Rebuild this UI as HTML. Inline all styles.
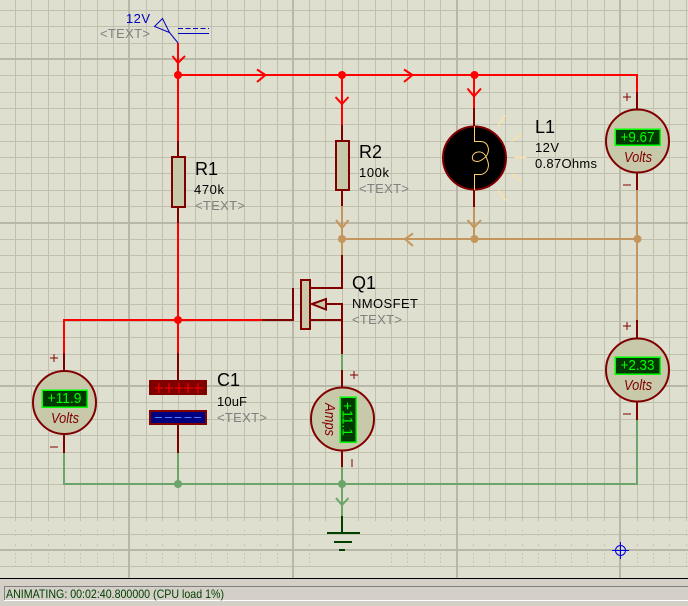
<!DOCTYPE html>
<html><head><meta charset="utf-8"><style>
html,body{margin:0;padding:0;width:688px;height:606px;overflow:hidden;background:#dfdfd0}
svg{display:block}
text{font-family:"Liberation Sans",sans-serif}
.n{font-size:18px;fill:#000}
.v{font-size:13px;fill:#000}
.t{font-size:13px;fill:#808080}
.d{font-size:15px;fill:#00ff00}
.u{font-size:15px;fill:#800000;font-style:italic}
.r{stroke:#f00}.k{stroke:#800000}.a{stroke:#c4965c}.g{stroke:#6aa56a}
.w{fill:none;stroke-width:2}
</style></head><body>
<svg width="688" height="606" viewBox="0 0 688 606" xmlns="http://www.w3.org/2000/svg">
<rect width="688" height="606" fill="#dfdfd0"/>
<g shape-rendering="crispEdges">
<path fill="none" stroke="#c0c0af" stroke-width="1" d="M0 10.5H688M0 26.5H688M0 43.5H688M0 75.5H688M0 92.5H688M0 108.5H688M0 124.5H688M0 141.5H688M0 157.5H688M0 173.5H688M0 190.5H688M0 206.5H688M0 239.5H688M0 255.5H688M0 272.5H688M0 288.5H688M0 304.5H688M0 321.5H688M0 337.5H688M0 354.5H688M0 370.5H688M0 402.5H688M0 419.5H688M0 435.5H688M0 452.5H688M0 468.5H688M0 484.5H688M0 501.5H688M0 517.5H688M0 534.5H688M0 566.5H688"/>
<path fill="none" stroke="#c0c0af" stroke-width="1" d="M15.5 0V521M31.5 0V521M48.5 0V521M64.5 0V521M80.5 0V521M97.5 0V521M113.5 0V521M146.5 0V521M162.5 0V521M178.5 0V521M195.5 0V521M211.5 0V521M227.5 0V521M244.5 0V521M260.5 0V521M277.5 0V521M309.5 0V521M325.5 0V521M342.5 0V521M358.5 0V521M375.5 0V521M391.5 0V521M407.5 0V521M424.5 0V521M440.5 0V521M473.5 0V521M489.5 0V521M505.5 0V521M522.5 0V521M538.5 0V521M555.5 0V521M571.5 0V521M587.5 0V521M604.5 0V521M637.5 0V521M653.5 0V521M669.5 0V521M686.5 0V521"/>
<path fill="none" stroke="#c6c6b6" stroke-width="1" stroke-dasharray="2 2" d="M15.5 530V536M31.5 530V536M48.5 530V536M64.5 530V536M80.5 530V536M97.5 530V536M113.5 530V536M146.5 530V536M162.5 530V536M178.5 530V536M195.5 530V536M211.5 530V536M227.5 530V536M244.5 530V536M260.5 530V536M277.5 530V536M309.5 530V536M391.5 530V536M407.5 530V536M424.5 530V536M440.5 530V536M473.5 530V536M489.5 530V536M505.5 530V536M522.5 530V536M538.5 530V536M555.5 530V536M571.5 530V536M587.5 530V536M604.5 530V536M637.5 530V536M653.5 530V536M669.5 530V536M686.5 530V536M15.5 544V548M31.5 544V548M48.5 544V548M64.5 544V548M80.5 544V548M97.5 544V548M113.5 544V548M146.5 544V548M162.5 544V548M178.5 544V548M195.5 544V548M211.5 544V548M227.5 544V548M244.5 544V548M260.5 544V548M277.5 544V548M309.5 544V548M391.5 544V548M407.5 544V548M424.5 544V548M440.5 544V548M473.5 544V548M489.5 544V548M505.5 544V548M522.5 544V548M538.5 544V548M555.5 544V548M571.5 544V548M587.5 544V548M604.5 544V548M637.5 544V548M653.5 544V548M669.5 544V548M686.5 544V548M15.5 553V569M31.5 553V569M48.5 553V569M64.5 553V569M80.5 553V569M97.5 553V569M113.5 553V569M146.5 553V569M162.5 553V569M178.5 553V569M195.5 553V569M211.5 553V569M227.5 553V569M244.5 553V569M260.5 553V569M277.5 553V569M309.5 553V569M391.5 553V569M407.5 553V569M424.5 553V569M440.5 553V569M473.5 553V569M489.5 553V569M505.5 553V569M522.5 553V569M538.5 553V569M555.5 553V569M571.5 553V569M587.5 553V569M604.5 553V569M637.5 553V569M653.5 553V569M669.5 553V569M686.5 553V569"/>
<path fill="none" stroke="#b8b8a8" stroke-width="2" d="M0 59H688M0 223H688M0 386H688M0 550H688M129 0V578M293 0V578M457 0V578M620 0V578"/>
</g>

<!-- wires -->
<g class="w" shape-rendering="crispEdges">
<path class="r" d="M178 43V141M177 75H638M637 74V92M342 75V125M474 75V108M178 223V353M64 320H262M64 319V353"/>
<path class="a" d="M342 206V255M474 207V239M342 239H637M637 190V320"/>
<path class="g" d="M342 354V370M342 467V516M64 453V485M63 484H638M637 420V485M178 453V484"/>
<path class="k" d="M178 141V157M178 207V223M342 125V141M342 190V206M342 255V289M474 108V126M474 190V207M637 92V109M637 173V190M637 320V338M637 402V420M64 353V371M64 435V453M178 353V380M178 425V453M342 304V354M342 370V387M342 451V467M262 320H294M293 321V288M310 288H343M310 320H342M327 304H343"/>
<path stroke="#004000" d="M342 516V533M327 533H360M334 542H352M339 550H345"/>
</g>

<!-- arrowheads -->
<g class="w">
<path class="r" d="M172.500 56L178 63L185 56M257 69.500L265.500 75L257 82M404 69.500L412.500 75L404 82M335.500 97L342 104L348.500 97M467.500 88.500L474 96.500L481 88.500"/>
<path class="a" d="M336 220L342 228L348.500 220M467.500 220L474 227.500L481 220M413 233.500L405 239L413 246"/>
<path class="g" d="M336 498L342 505L348.500 498"/>
</g>

<!-- junctions -->
<g>
<circle cx="178" cy="75" r="4" fill="#f00"/><circle cx="342" cy="75" r="4" fill="#f00"/><circle cx="474.500" cy="75" r="4" fill="#f00"/><circle cx="178" cy="320" r="4" fill="#f00"/>
<circle cx="342" cy="239" r="4" fill="#c4965c"/><circle cx="474.500" cy="239" r="4" fill="#c4965c"/><circle cx="637.500" cy="239" r="4" fill="#c4965c"/>
<circle cx="178" cy="484" r="4" fill="#6aa56a"/><circle cx="342" cy="484" r="4" fill="#6aa56a"/>
</g>

<!-- power terminal -->
<path d="M162.500 18.500L154.500 26.500L169.500 32.500ZM169.500 32.500L178 43" fill="none" stroke="#0000c0" stroke-width="1"/>
<path d="M178 28.500H209" stroke="#0000c8" stroke-width="1" stroke-dasharray="5 2.500" shape-rendering="crispEdges"/>
<path d="M178 33.500H209" stroke="#0000c8" stroke-width="1" shape-rendering="crispEdges"/>
<text x="126" y="23" font-size="13" fill="#0000c0" textLength="24">12V</text>
<text class="t" x="100" y="38" textLength="50">&lt;TEXT&gt;</text>

<!-- resistors -->
<rect x="172" y="157" width="13" height="50" fill="#c8c8aa" stroke="#800000" stroke-width="2" shape-rendering="crispEdges"/>
<rect x="336" y="141" width="13" height="49" fill="#c8c8aa" stroke="#800000" stroke-width="2" shape-rendering="crispEdges"/>
<text class="n" x="195" y="175">R1</text><text class="v" x="194" y="194" textLength="30">470k</text><text class="t" x="195" y="210" textLength="50">&lt;TEXT&gt;</text>
<text class="n" x="359" y="158">R2</text><text class="v" x="359" y="177" textLength="30">100k</text><text class="t" x="359" y="193" textLength="50">&lt;TEXT&gt;</text>

<!-- lamp -->
<circle cx="474.500" cy="158" r="31.500" fill="#000" stroke="#800000" stroke-width="2"/>
<path d="M474.500 126V141.500H481Q488 142 488.500 150Q488 156 483 159Q477 163.500 473 160Q471 156 475 153Q481 150 485 155Q488 160 488.500 165Q488 173 481 174.500H474.500V190" fill="none" stroke="#ffd070" stroke-width="1"/>
<path d="M498 126L505.500 115.500M511.500 141.500L521.500 134.500M514.500 157.500H526.500M511.500 174L521.500 181M498 190L506 200.500" stroke="#ffe0a0" stroke-width="1.300" fill="none"/>
<text class="n" x="535" y="133">L1</text><text class="v" x="535" y="152" textLength="24">12V</text><text class="v" x="535" y="168" textLength="62">0.87Ohms</text>

<!-- mosfet -->
<rect x="301" y="280" width="9" height="49" fill="#c8c8aa" stroke="#800000" stroke-width="2" shape-rendering="crispEdges"/>
<path d="M312 304L326 299V309.500Z" fill="#c8c8aa" stroke="#800000" stroke-width="2"/>
<text class="n" x="352" y="289">Q1</text><text class="v" x="352" y="308" textLength="66">NMOSFET</text><text class="t" x="352" y="324" textLength="50">&lt;TEXT&gt;</text>

<!-- capacitor -->
<rect x="149" y="380" width="58" height="15" fill="#800000"/>
<path d="M155 388H163M165 388H173M175 388H183M184 388H193M194 388H203M159 383V393M169 383V393M179 383V393M188 383V393M198 383V393" stroke="#f00" stroke-width="1" fill="none" shape-rendering="crispEdges"/>
<rect x="150" y="411" width="56" height="13" fill="#000080" stroke="#800000" stroke-width="2" shape-rendering="crispEdges"/>
<path d="M155 417.500H203" stroke="#4a80ff" stroke-width="1" stroke-dasharray="7 2.800" shape-rendering="crispEdges"/>
<text class="n" x="217" y="386">C1</text><text class="v" x="217" y="406" textLength="30">10uF</text><text class="t" x="217" y="422" textLength="50">&lt;TEXT&gt;</text>

<!-- voltmeter top right -->
<circle cx="637.500" cy="141" r="31.500" fill="#c8c8aa" stroke="#800000" stroke-width="2"/>
<rect x="615" y="129" width="45" height="16" fill="#003800" stroke="#00ff00" stroke-width="1.500" shape-rendering="crispEdges"/>
<text class="d" x="620.500" y="142" textLength="34" lengthAdjust="spacingAndGlyphs">+9.67</text>
<text class="u" x="624" y="162" textLength="28" lengthAdjust="spacingAndGlyphs">Volts</text>
<path d="M623 97H631M627 93V101M623 185H631" stroke="#800000" stroke-width="1" shape-rendering="crispEdges"/>

<!-- voltmeter lower right -->
<circle cx="637.500" cy="370" r="31.500" fill="#c8c8aa" stroke="#800000" stroke-width="2"/>
<rect x="615" y="357" width="45" height="17" fill="#003800" stroke="#00ff00" stroke-width="1.500" shape-rendering="crispEdges"/>
<text class="d" x="620.500" y="370" textLength="34" lengthAdjust="spacingAndGlyphs">+2.33</text>
<text class="u" x="624" y="390" textLength="28" lengthAdjust="spacingAndGlyphs">Volts</text>
<path d="M623 326H631M627 322V330M623 414H631" stroke="#800000" stroke-width="1" shape-rendering="crispEdges"/>

<!-- voltmeter left -->
<circle cx="64.500" cy="402.500" r="31.500" fill="#c8c8aa" stroke="#800000" stroke-width="2"/>
<rect x="42" y="390" width="45" height="17" fill="#003800" stroke="#00ff00" stroke-width="1.500" shape-rendering="crispEdges"/>
<text class="d" x="47.500" y="403" textLength="34" lengthAdjust="spacingAndGlyphs">+11.9</text>
<text class="u" x="51" y="423" textLength="28" lengthAdjust="spacingAndGlyphs">Volts</text>
<path d="M50 358H58M54 354V362M50 447H58" stroke="#800000" stroke-width="1" shape-rendering="crispEdges"/>

<!-- ammeter -->
<circle cx="342.500" cy="419" r="31.500" fill="#c8c8aa" stroke="#800000" stroke-width="2"/>
<rect x="340" y="397" width="16" height="45" fill="#003800" stroke="#00ff00" stroke-width="1.500" shape-rendering="crispEdges"/>
<text class="d" transform="translate(342.500 402) rotate(90)" textLength="34" lengthAdjust="spacingAndGlyphs">+11.1</text>
<text class="u" transform="translate(325 403) rotate(90)" textLength="33" lengthAdjust="spacingAndGlyphs">Amps</text>
<path d="M350 375H358M354 371V379M352 459V467" stroke="#800000" stroke-width="1" shape-rendering="crispEdges"/>

<!-- crosshair -->
<circle cx="620.500" cy="550.500" r="5" fill="none" stroke="#0000e0" stroke-width="1"/>
<path d="M612 550.500H629M620.500 542V559" stroke="#0000e0" stroke-width="1" shape-rendering="crispEdges"/>

<!-- status bar -->
<g shape-rendering="crispEdges">
<rect x="0" y="578" width="688" height="28" fill="#d4d0c8"/>
<rect x="0" y="578" width="688" height="1" fill="#000"/>
<rect x="4" y="586" width="684" height="1" fill="#808080"/>
<rect x="4" y="586" width="1" height="14" fill="#808080"/>
<rect x="4" y="600" width="684" height="1" fill="#fff"/>
</g>
<text x="6" y="598" font-size="12" fill="#004000" textLength="218" lengthAdjust="spacingAndGlyphs">ANIMATING: 00:02:40.800000 (CPU load 1%)</text>
</svg>
</body></html>
